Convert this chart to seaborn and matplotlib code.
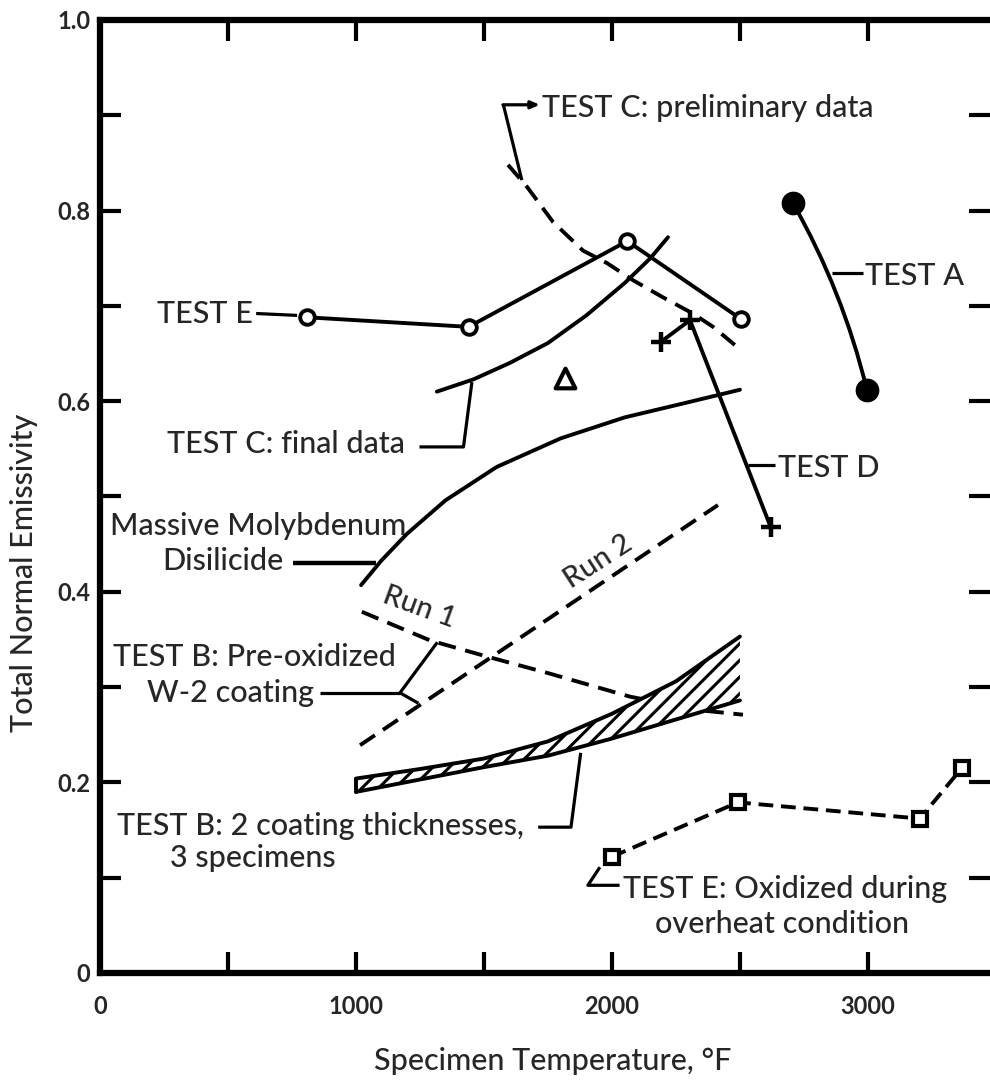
import matplotlib
matplotlib.use("Agg")
import matplotlib.pyplot as plt
import pandas as pd
import seaborn as sns

# ---- data: specimen temperature (deg F) vs total normal emissivity ----
# TEST E (open circles)
test_e_temp = [810, 1440, 2060, 2505]
test_e_emis = [0.688, 0.678, 0.768, 0.686]

# TEST A (filled circles)
test_a_temp = [2707, 2996]
test_a_emis = [0.808, 0.612]

# TEST D (crosses)
test_d_temp = [2190, 2305, 2620]
test_d_emis = [0.662, 0.685, 0.468]

# isolated point (open triangle)
tri_temp = [1816]
tri_emis = [0.624]

# TEST C: preliminary data (dashed curve)
c_pre_temp = [1594, 1668, 1770, 1887, 1980, 2082, 2199, 2316, 2395, 2480]
c_pre_emis = [0.848, 0.825, 0.788, 0.758, 0.745, 0.727, 0.709, 0.692, 0.678, 0.659]

# TEST C: final data (solid curve)
c_fin_temp = [1316, 1460, 1600, 1750, 1900, 2050, 2150, 2219]
c_fin_emis = [0.610, 0.623, 0.640, 0.661, 0.690, 0.724, 0.750, 0.772]

# Massive molybdenum disilicide
mosi_temp = [1020, 1100, 1200, 1350, 1550, 1800, 2050, 2300, 2500]
mosi_emis = [0.407, 0.433, 0.461, 0.496, 0.531, 0.561, 0.583, 0.599, 0.612]

# TEST B: pre-oxidized W-2 coating, run 1 and run 2
run1_temp = [1023, 1289, 1512, 1746, 2070, 2332, 2512]
run1_emis = [0.379, 0.349, 0.332, 0.315, 0.290, 0.276, 0.271]
run2_temp = [1016, 2414]
run2_emis = [0.239, 0.491]

# TEST B: 2 coating thicknesses, 3 specimens (band)
band_temp = [1000, 1250, 1500, 1750, 2000, 2250, 2500]
band_low = [0.190, 0.203, 0.216, 0.228, 0.246, 0.266, 0.286]
band_high = [0.204, 0.214, 0.225, 0.243, 0.272, 0.306, 0.353]

# TEST E: oxidized during overheat condition (open squares)
e_ox_temp = [2000, 2492, 3203, 3367]
e_ox_emis = [0.122, 0.179, 0.162, 0.215]

x_major = [0, 1000, 2000, 3000]
x_minor = [500, 1500, 2500]
y_major = [0, 0.2, 0.4, 0.6, 0.8, 1.0]
y_major_labels = ["0", "0.2", "0.4", "0.6", "0.8", "1.0"]
y_minor = [0.1, 0.3, 0.5, 0.7, 0.9]

# ---- style ----
sns.set_style("white")
plt.rcParams["font.family"] = ["Lato", "DejaVu Sans"]
plt.rcParams["hatch.linewidth"] = 2.2

INK = "black"
LW = 2.8
DASH = (0, (4.6, 2.5))
SHORT_DASH = (0, (3.8, 2.0))
TXT = 22
TXT_KW = dict(fontsize=TXT, fontweight=500, va="baseline")

fig = plt.figure(figsize=(9.9, 10.8), dpi=100)
ax = fig.add_axes([0.101, 0.0991, 0.899, 0.8824])


def frame(x, y):
    return pd.DataFrame({"temp": x, "emis": y})


def curve(x, y, **kw):
    sns.lineplot(data=frame(x, y), x="temp", y="emis", ax=ax, color=INK,
                 linewidth=LW, sort=False, estimator=None, **kw)


# smooth curves
curve(c_pre_temp, c_pre_emis, linestyle=DASH)
curve(c_fin_temp, c_fin_emis)
curve(mosi_temp, mosi_emis)
curve(run1_temp, run1_emis, linestyle=DASH)
curve(run2_temp, run2_emis, linestyle=DASH)

# hatched band for the coated specimens
ax.fill_between(band_temp, band_low, band_high, facecolor="white",
                edgecolor=INK, hatch="//", linewidth=0, zorder=3)
curve(band_temp, band_low, zorder=4)
curve(band_temp, band_high, zorder=4)
ax.plot([band_temp[0], band_temp[0]], [band_low[0], band_high[0]],
        color=INK, lw=LW, zorder=4)

# measured points
curve(test_e_temp, test_e_emis, marker="o", markersize=10.5,
      markerfacecolor="white", markeredgecolor=INK, markeredgewidth=2.8)
curve(test_d_temp, test_d_emis, marker="+", markersize=15,
      markeredgecolor=INK, markeredgewidth=3.2)
curve(e_ox_temp, e_ox_emis, linestyle=SHORT_DASH, marker="s",
      markersize=10, markerfacecolor="white", markeredgecolor=INK,
      markeredgewidth=3.0)
sns.scatterplot(data=frame(test_a_temp, test_a_emis), x="temp", y="emis",
                ax=ax, color=INK, s=250, edgecolor=INK, zorder=5)
ax.annotate("", xy=(test_a_temp[1], test_a_emis[1]),
            xytext=(test_a_temp[0], test_a_emis[0]),
            arrowprops=dict(arrowstyle="-", color=INK, lw=LW,
                            shrinkA=0, shrinkB=0,
                            connectionstyle="arc3,rad=-0.07"))
sns.scatterplot(data=frame(tri_temp, tri_emis), x="temp", y="emis", ax=ax,
                marker="^", s=200, facecolor="white", edgecolor=INK,
                linewidth=3.0, zorder=5)


# ---- labels with leader lines ----
def leader(xs, ys, lw=2.3):
    ax.plot(xs, ys, color=INK, lw=lw, solid_capstyle="butt", zorder=4)


ax.text(1727, 0.898, "TEST C: preliminary data", ha="left", **TXT_KW)
leader([1648, 1576], [0.832, 0.911])
ax.annotate("", xy=(1718, 0.911), xytext=(1574, 0.911),
            arrowprops=dict(arrowstyle="-|>,head_length=0.5,head_width=0.22",
                            color=INK, lw=2.3, shrinkA=0, shrinkB=0))

ax.text(2988, 0.722, "TEST A", ha="left", **TXT_KW)
leader([2860, 2980], [0.735, 0.735])

ax.text(598, 0.682, "TEST E", ha="right", **TXT_KW)
leader([610, 770], [0.692, 0.690])

ax.text(262, 0.546, "TEST C: final data", ha="left", **TXT_KW)
leader([1248, 1420, 1453], [0.552, 0.552, 0.620])

ax.text(2648, 0.520, "TEST D", ha="left", **TXT_KW)
leader([2530, 2638], [0.533, 0.533])

ax.text(39, 0.460, "Massive Molybdenum", ha="left", **TXT_KW)
ax.text(242, 0.423, "Disilicide", ha="left", **TXT_KW)
leader([755, 1080], [0.430, 0.430], lw=3.2)

ax.text(1246, 0.384, "Run 1", fontsize=TXT - 1, fontweight=500,
        ha="center", va="center", rotation=-20)
ax.text(1945, 0.431, "Run 2", fontsize=TXT - 1, fontweight=500,
        ha="center", va="center", rotation=33)

ax.text(51, 0.322, "TEST B: Pre-oxidized", ha="left", **TXT_KW)
ax.text(184, 0.284, "W-2 coating", ha="left", **TXT_KW)
leader([860, 1172], [0.294, 0.294])
leader([1172, 1318], [0.294, 0.347])
leader([1172, 1244], [0.294, 0.283])

ax.text(66, 0.145, "TEST B: 2 coating thicknesses,", ha="left", **TXT_KW)
ax.text(273, 0.111, "3 specimens", ha="left", **TXT_KW)
leader([1712, 1840, 1878], [0.153, 0.153, 0.231])

ax.text(2043, 0.079, "TEST E: Oxidized during", ha="left", **TXT_KW)
ax.text(2168, 0.042, "overheat condition", ha="left", **TXT_KW)
leader([1953, 1906, 2030], [0.111, 0.092, 0.092])

# ---- axes ----
ax.set_xlim(0, 3477)
ax.set_ylim(0, 1.0)
ax.set_xlabel("")
ax.set_ylabel("")
ax.set_xticks(x_major)
ax.set_xticklabels([str(v) for v in x_major])
ax.set_xticks(x_minor, minor=True)
ax.set_yticks(y_major)
ax.set_yticklabels(y_major_labels)
ax.set_yticks(y_minor, minor=True)
ax.tick_params(which="both", direction="in", length=15, width=3,
               top=True, right=True, bottom=True, left=True, color=INK)
ax.tick_params(axis="x", which="major", pad=16, labelsize=17)
ax.tick_params(axis="y", which="major", pad=7, labelsize=17)
for lab in ax.get_xticklabels() + ax.get_yticklabels():
    lab.set_fontweight("bold")
for side in ("left", "top", "bottom"):
    ax.spines[side].set_linewidth(4.5)
    ax.spines[side].set_color(INK)
ax.spines["right"].set_visible(False)

fig.text(0.024, 0.47, "Total Normal Emissivity", fontsize=22,
         fontweight=500, rotation=90, ha="center", va="center")
fig.text(0.558, 0.0093, "Specimen Temperature, \u00b0F", fontsize=22,
         fontweight=500, ha="center", va="baseline")

fig.savefig("out.png", dpi=100)
